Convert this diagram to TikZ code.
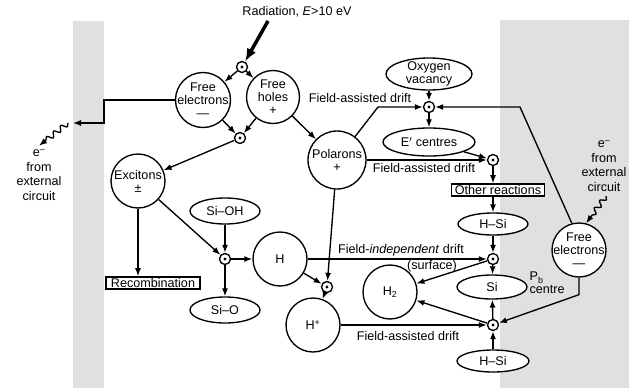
\documentclass[tikz,border=0pt]{standalone}
\usepackage{fontspec}
\setmainfont{Liberation Sans}
\usetikzlibrary{arrows.meta}
\usetikzlibrary{shapes.geometric}
\usetikzlibrary{decorations.pathmorphing}

\tikzset{
  band/.style={fill=black!12},
  species/.style={circle, draw, fill=white, inner sep=-8pt, minimum size=54pt, align=center},
  site/.style={ellipse, draw, fill=white, inner sep=-4pt, minimum width=70pt, minimum height=24pt, align=center},
  outcome/.style={rectangle, draw, fill=white, inner xsep=3.5pt, inner ysep=1.5pt},
  react/.style={circle, draw, fill=white, inner sep=0pt, minimum size=11pt,
    path picture={\fill [black] (path picture bounding box.center) circle [radius=1.6pt];}},
  arr/.style={->},
  wavy/.style={->, decorate, decoration={snake, amplitude=2.6pt, segment length=9pt, post length=7pt}},
  heavy/.style={-{Latex[length=13pt,width=10pt]}, line width=3.5pt},
  extlabel/.style={align=center, font=\fontsize{12.6}{14.5}\selectfont}
}

\begin{document}
\begin{tikzpicture}[x=1pt, y=-1pt, line width=1.35pt, >={Latex[length=8pt,width=6pt]},
    font=\fontsize{12.6}{13}\selectfont]
  \useasboundingbox (0,0) rectangle (629,388);
  \fill [band] (73,21) rectangle (104,388);
  \fill [band] (500,20) rectangle (629,388);

  \node (radlabel) at (297,12) {Radiation, \textit{E}>10 eV};
  \coordinate (radtail) at (268,21);

  \node [react] (d1) at (242,67) {};
  \node [react] (d2) at (240,138) {};
  \node [react] (d3) at (429,107) {};
  \node [react] (d4) at (493,160) {};
  \node [react] (d5) at (493,259) {};
  \node [react] (d6) at (493,325) {};
  \node [react] (d7) at (225,259) {};
  \node [react] (d8) at (327,287) {};

  \node [species, minimum size=55pt] (fe) at (203,100) {Free\\electrons\\\textemdash};
  \node [species, minimum size=53pt] (fh) at (273,97) {Free\\holes\\+};
  \node [species] (exc) at (138,181) {Excitons\\±};
  \node [species, minimum size=58pt] (pol) at (337,160) {Polarons\\+};
  \node [species] (h) at (280,259) {H};
  \node [species] (hp) at (313,325) {H\textsuperscript{+}};
  \node [species] (h2) at (390,292) {H\textsubscript{2}};
  \node [species] (fe2) at (579,250) {Free\\electrons\\\textemdash};

  \node [site, minimum width=86pt, minimum height=32pt] (oxy) at (429,74) {Oxygen\\vacancy};
  \node [site, minimum width=92pt, minimum height=28pt] (ep) at (429,142) {E$'$ centres};
  \node [site, minimum height=22pt] (hsi1) at (493,224) {H–Si};
  \node [site] (si) at (492,287) {Si};
  \node [site, minimum width=72pt, minimum height=22pt] (hsi2) at (493,361) {H–Si};
  \node [site, minimum height=26pt] (sioh) at (225,211) {Si–OH};
  \node [site, minimum height=26pt] (sio) at (225,310) {Si–O};

  \node [outcome] (other) at (498,190) {Other reactions};
  \node [outcome, inner xsep=5pt] (rec) at (153,283) {Recombination};

  \node (drift1) at (360,98) {Field-assisted drift};
  \node (drift2) at (424,168) {Field-assisted drift};
  \node (drift3) at (401,250) {Field-\textit{independent} drift};
  \node (surface) at (432,266) {(surface)};
  \node (drift4) at (408,336) {Field-assisted drift};
  \node [anchor=west, align=left, inner sep=0pt] (pb) at (529,283) {P\textsubscript{b}\\centre};

  \node [extlabel] (lext) at (39,175) {e\textsuperscript{\textendash}\\from\\external\\circuit};
  \node [extlabel] (rext) at (604,166) {e\textsuperscript{\textendash}\\from\\external\\circuit};
  \coordinate (lwav) at (68,123);
  \coordinate (rwav) at (606,196);
  \coordinate (c1) at (378,107);
  \coordinate (c2) at (520,107);

  \draw [heavy] (radtail) -- (d1);
  \draw [arr] (d1) -- (fe);
  \draw [arr] (d1) -- (fh);
  \draw [arr] (fe) -- (d2);
  \draw [arr] (fh) -- (d2);
  \draw [arr] (d2) -- (exc);
  \draw [arr] (fh) -- (pol);
  \draw [arr] (fe.west) -- ++(-71,0) |- (73,123);
  \draw [wavy] (lwav) -- (lext.north);

  \draw [arr] (exc.south) -- (exc.south |- rec.north);
  \draw [arr] (exc) -- (d7);
  \draw [arr] (sioh) -- (d7);
  \draw [arr] (d7) -- (h);
  \draw [arr] (d7) -- (sio);
  \draw [arr] (h) -- (d8);
  \draw [arr] (pol) -- (d8);
  \draw [arr] (d8) -- (hp);

  \draw [arr] (pol) -- (c1) -- (d3);
  \draw [arr] (oxy) -- (d3);
  \draw [arr] (fe2.105) -- (c2) -- (d3);
  \draw [arr] (d3) -- (ep);
  \draw [arr] (ep) -- (d4);
  \draw [arr] (pol.east) -- (d4);
  \draw [arr] (d4) -- (d4 |- other.north);
  \draw [arr] (other.south -| d4) -- (hsi1);
  \draw [arr] (hsi1) -- (d5);

  \draw [arr] (h.east) -- (d5);
  \draw [arr] (d5) -- (h2);
  \draw [arr] (d5) -- (si);
  \draw [arr] (d6) -- (si);
  \draw [arr] (d6) -- (h2);
  \draw [arr] (hp.east) -- (d6);
  \draw [arr] (hsi2) -- (d6);
  \draw [arr] (fe2.south) -- ++(0,17) -- (d6);
  \draw [wavy] (rwav) -- (fe2.75);
\end{tikzpicture}
\end{document}
